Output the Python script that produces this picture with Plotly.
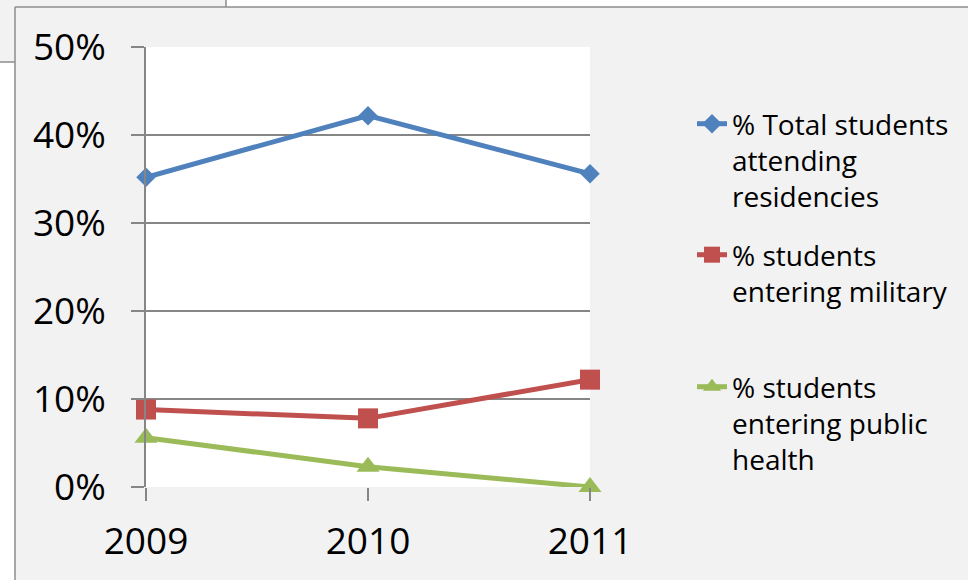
import plotly.graph_objects as go

years = ["2009", "2010", "2011"]
residencies = [0.352, 0.422, 0.356]
military = [0.088, 0.078, 0.122]
public_health = [0.056, 0.023, 0.0]

names = [
    "% Total students<br>attending<br>residencies",
    "% students<br>entering military",
    "% students<br>entering public<br>health",
]
colors = ["#4f81bd", "#c0504d", "#9bbb59"]
symbols = ["diamond", "square", "triangle-up"]
sizes = [15, 20, 20]
series = [residencies, military, public_health]

W, H = 968, 580
L, R, T, B = 146, 378, 47, 93
PW, PH = W - L - R, H - T - B


def px(x):
    return (x - L) / PW


def py(y):
    return (H - B - y) / PH


FONT = "Open Sans"
fig = go.Figure()
legend_tops = [99, 230, 362]
for i, (vals, nm) in enumerate(zip(series, names)):
    fig.add_trace(go.Scatter(
        x=years, y=vals, name=nm, mode="lines+markers",
        line=dict(color=colors[i], width=5),
        marker=dict(symbol=symbols[i], size=sizes[i], color=colors[i]),
        cliponaxis=False,
        legend="legend" if i == 0 else f"legend{i+1}",
    ))

legend_common = dict(
    font=dict(family=FONT, size=28, color="#000000"),
    bgcolor="rgba(0,0,0,0)", xanchor="left", yanchor="top",
    valign="top", x=px(692), tracegroupgap=0,
)
layout_legends = {}
for i, top in enumerate(legend_tops):
    key = "legend" if i == 0 else f"legend{i+1}"
    layout_legends[key] = dict(legend_common, y=py(top))

shapes = []
line_col = "#8c8c8c"
shapes.append(dict(type="rect", xref="paper", yref="paper", x0=px(0), x1=px(15),
                   y0=py(62), y1=py(580), fillcolor="white", line=dict(width=0), layer="below"))
shapes.append(dict(type="rect", xref="paper", yref="paper", x0=px(226), x1=px(968),
                   y0=py(0), y1=py(7), fillcolor="white", line=dict(width=0), layer="below"))
for (x0, y0, x1, y1) in [(15, 7, 15, 580), (15, 7, 968, 7), (0, 62, 15, 62), (226, 0, 226, 7)]:
    shapes.append(dict(type="line", xref="paper", yref="paper", x0=px(x0), x1=px(x1),
                       y0=py(y0), y1=py(y1), line=dict(color=line_col, width=1.5), layer="above"))

fig.update_layout(
    width=W, height=H,
    margin=dict(l=L, r=R, t=T, b=B, autoexpand=False),
    paper_bgcolor="#f2f2f2", plot_bgcolor="#ffffff",
    showlegend=True,
    shapes=shapes,
    **layout_legends,
)
fig.update_xaxes(
    type="category", range=[0, 2], showgrid=False, showline=False, zeroline=False,
    ticks="outside", ticklen=13, tickcolor="#868686", tickwidth=1.5,
    tickfont=dict(family=FONT, size=37, color="#000000"), ticklabelstandoff=9,
)
fig.update_yaxes(
    range=[0, 0.5], tickvals=[0, 0.1, 0.2, 0.3, 0.4, 0.5], tickformat=".0%",
    showgrid=True, gridcolor="#868686", gridwidth=1.5,
    showline=True, linecolor="#868686", linewidth=1.5, zeroline=False,
    ticks="outside", ticklen=13, tickcolor="#868686", tickwidth=1.5,
    tickfont=dict(family=FONT, size=37, color="#000000"), ticklabelstandoff=18,
)

fig.write_html(
    "out.html",
    config={"displayModeBar": False},
    post_script="document.body.style.margin='0';document.body.style.overflow='hidden';",
)
